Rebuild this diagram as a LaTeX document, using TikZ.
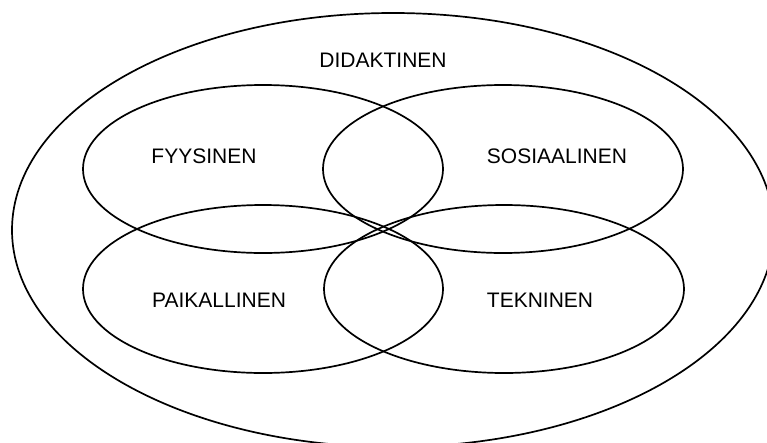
\documentclass[tikz,border=0pt]{standalone}
\usepackage{fontspec}
\setmainfont{Liberation Sans}
\usetikzlibrary{shapes.geometric, positioning}

\begin{document}
\begin{tikzpicture}[x=1pt, y=-1pt,
    area/.style={ellipse, draw, line width=1.7pt, inner sep=0pt, minimum width=360pt, minimum height=168pt},
    areaname/.style={inner sep=0pt, font=\fontsize{21}{25}\selectfont}]
    \useasboundingbox (0,0) rectangle (767,442);
    \clip (0,0) rectangle (767,442);
    % outer ellipse, cut off at right and bottom
    \node [ellipse, draw, line width=1.7pt, inner sep=0pt, minimum width=762pt, minimum height=434pt] (didaktinen) at (393,230) {};
    \node [areaname] (didaktinen-txt) at (383,60) {DIDAKTINEN};
    % the four areas
    \node [area] (fyysinen) at (263,169) {};
    \node [area] (sosiaalinen) at (503,169) {};
    \node [area] (paikallinen) at (263,289) {};
    \node [area] (tekninen) at (504,289) {};
    \node [areaname] (fyysinen-txt) at (204,156) {FYYSINEN};
    \node [areaname] (sosiaalinen-txt) at (557,156) {SOSIAALINEN};
    \node [areaname] (paikallinen-txt) at (219,300) {PAIKALLINEN};
    \node [areaname] (tekninen-txt) at (540,300) {TEKNINEN};
\end{tikzpicture}
\end{document}
